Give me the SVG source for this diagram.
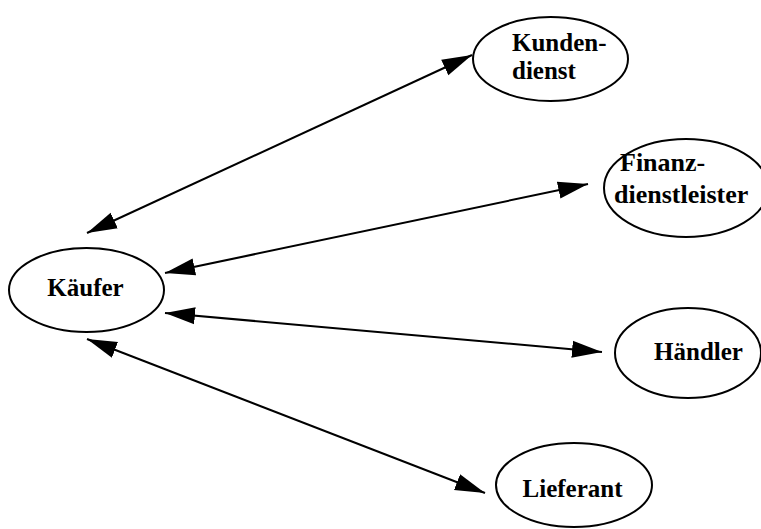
<svg xmlns="http://www.w3.org/2000/svg" width="761" height="529" viewBox="0 0 761 529">
  <defs>
    <style>
      .node ellipse { fill: #ffffff; stroke: #000000; stroke-width: 2; }
      .node text { font-family: "Liberation Serif", "Times New Roman", serif; font-weight: bold; font-size: 25px; fill: #000000; }
      .edge { stroke: #000000; stroke-width: 2; fill: none; marker-start: url(#head); marker-end: url(#head); }
    </style>
    <marker id="head" markerUnits="userSpaceOnUse" markerWidth="31" markerHeight="18" viewBox="0 0 31 18" refX="30" refY="9" orient="auto-start-reverse">
      <path d="M0,0.5 L30,9 L0,17.5 Z" fill="#000000"/>
    </marker>
  </defs>

  <!-- connectors: buyer to each partner, arrowheads on both ends -->
  <g id="edges">
    <line class="edge" x1="87" y1="233" x2="472" y2="55"/>
    <line class="edge" x1="165" y1="273" x2="588" y2="184"/>
    <line class="edge" x1="165" y1="313" x2="602" y2="352"/>
    <line class="edge" x1="87" y1="339" x2="485" y2="493"/>
  </g>

  <!-- nodes -->
  <g id="kaeufer" class="node">
    <ellipse cx="86.5" cy="290" rx="77.5" ry="42"/>
    <text x="85.5" y="296" text-anchor="middle">Käufer</text>
  </g>
  <g id="kundendienst" class="node">
    <ellipse cx="550.5" cy="59" rx="77.5" ry="42"/>
    <text x="512" y="51">Kunden-</text>
    <text x="512" y="79">dienst</text>
  </g>
  <g id="finanzdienstleister" class="node">
    <ellipse cx="686" cy="188" rx="82" ry="49"/>
    <text x="620" y="171" style="font-size:26px">Finanz-</text>
    <text x="614" y="203" style="font-size:26px">dienstleister</text>
  </g>
  <g id="haendler" class="node">
    <ellipse cx="688" cy="353" rx="73" ry="45"/>
    <text x="698.5" y="360" text-anchor="middle">Händler</text>
  </g>
  <g id="lieferant" class="node">
    <ellipse cx="574" cy="485" rx="78" ry="42"/>
    <text x="572.5" y="497" text-anchor="middle">Lieferant</text>
  </g>
</svg>
